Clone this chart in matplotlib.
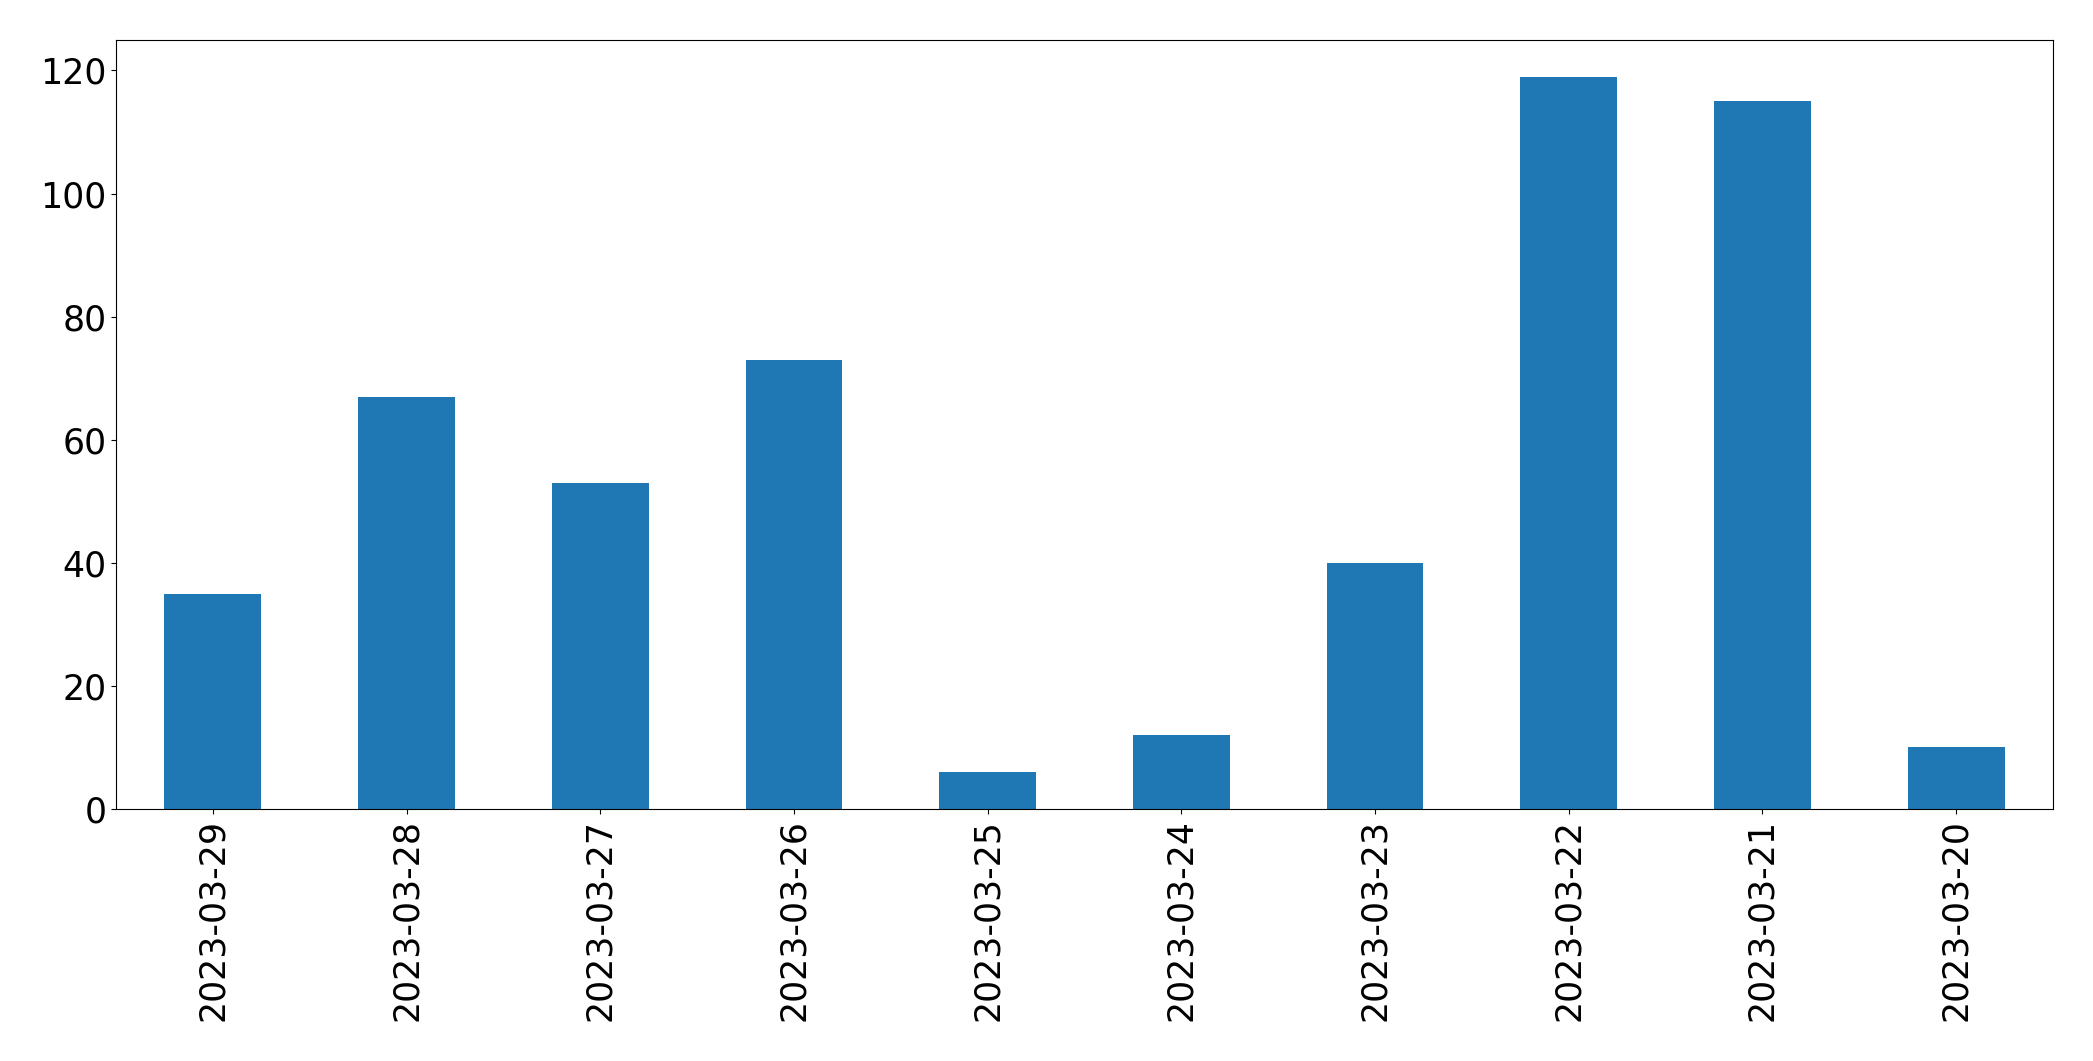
"""
Daily counts bar chart.
"""

import matplotlib
matplotlib.use("Agg")
import matplotlib.pyplot as plt

dates = ['2023-03-29', '2023-03-28', '2023-03-27', '2023-03-26', '2023-03-25',
         '2023-03-24', '2023-03-23', '2023-03-22', '2023-03-21', '2023-03-20']
counts = [35, 67, 53, 73, 6, 12, 40, 119, 115, 10]


fig, ax = plt.subplots(figsize=(20.93, 10.61), dpi=100)
fig.subplots_adjust(left=116 / 2093, right=2053 / 2093, top=1 - 40 / 1061, bottom=1 - 809 / 1061)

x = range(len(dates))
ax.bar(x, counts, width=0.5, color='#1f77b4')
ax.set_xlim(-0.5, len(dates) - 0.5)
ax.set_ylim(0, max(counts) * 1.05)
ax.set_xticks(list(x))
ax.set_xticklabels(dates, rotation=90)
ax.tick_params(axis='both', labelsize=25, color='black')
for spine in ax.spines.values():
    spine.set_color('black')

fig.savefig('out.png', dpi=100)
